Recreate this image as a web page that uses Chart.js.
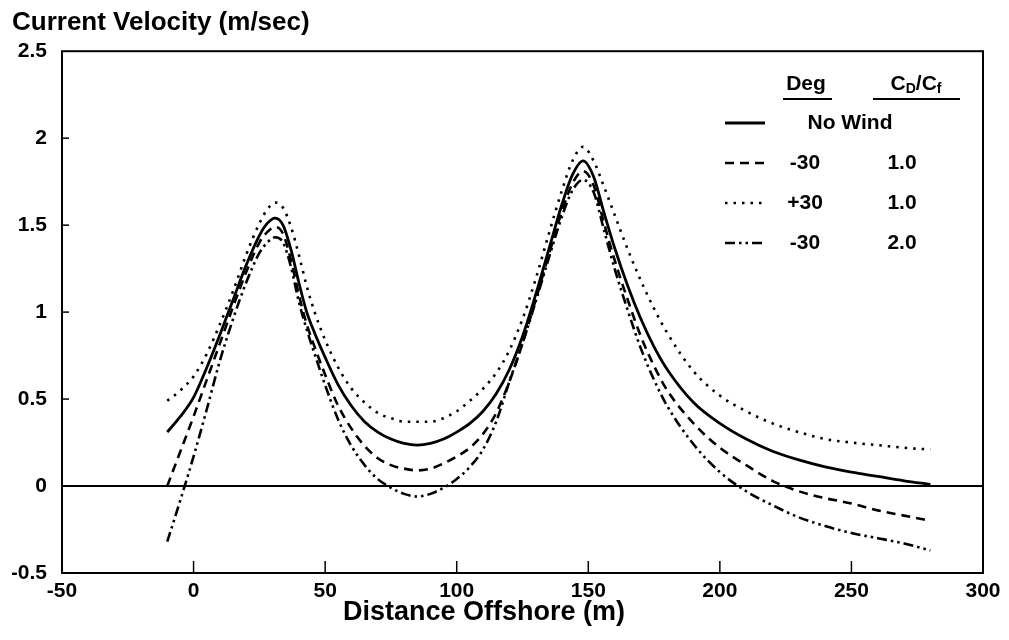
<!DOCTYPE html>
<html>
<head>
<meta charset="utf-8">
<script src="https://cdn.jsdelivr.net/npm/chart.js@4.4.1/dist/chart.umd.min.js"></script>
<style>
    html, body { margin: 0; padding: 0; background: #fff; }
    #wrap { width: 1009px; height: 640px; }
</style>
</head>
<body>
<div id="wrap"><canvas id="velocityChart" width="1009" height="640"></canvas></div>
<script>
// Distance offshore (m) where the curves were read
const distance = [-10, -5, 0, 5, 10, 15, 20, 25, 28, 31, 34, 37, 40, 43, 46,
    50, 55, 60, 65, 70, 75, 80, 85, 90, 95, 100, 105, 110, 115, 120, 125, 130, 135, 140,
    144, 148, 152, 156, 160, 165, 170, 175, 180,
    190, 200, 210, 220, 230, 240, 250, 260, 270, 280];

// Current velocity (m/sec) for each case
const noWind = [0.31, 0.40, 0.51, 0.68, 0.87, 1.07, 1.27, 1.44, 1.51, 1.54, 1.50, 1.36, 1.17, 1.00, 0.88,
    0.74, 0.58, 0.46, 0.37, 0.31, 0.27, 0.245, 0.235, 0.245, 0.27, 0.31, 0.36, 0.43, 0.53, 0.67, 0.86, 1.10, 1.36, 1.62,
    1.79, 1.87, 1.78, 1.57, 1.37, 1.15, 0.96, 0.80, 0.67,
    0.48, 0.36, 0.27, 0.20, 0.15, 0.11, 0.08, 0.055, 0.03, 0.01];
const minus30Cd1 = [0.00, 0.20, 0.40, 0.61, 0.82, 1.03, 1.23, 1.40, 1.46, 1.49, 1.45, 1.30, 1.10, 0.93, 0.80,
    0.64, 0.46, 0.33, 0.23, 0.16, 0.12, 0.10, 0.09, 0.10, 0.13, 0.17, 0.22, 0.30, 0.42, 0.60, 0.82, 1.07, 1.33, 1.58,
    1.74, 1.81, 1.73, 1.51, 1.30, 1.07, 0.86, 0.69, 0.55,
    0.36, 0.22, 0.12, 0.03, -0.03, -0.07, -0.10, -0.14, -0.17, -0.20];
const plus30Cd1 = [0.49, 0.55, 0.63, 0.76, 0.93, 1.12, 1.33, 1.51, 1.59, 1.63, 1.60, 1.49, 1.33, 1.15, 1.00,
    0.84, 0.68, 0.56, 0.48, 0.42, 0.39, 0.37, 0.37, 0.37, 0.39, 0.43, 0.49, 0.56, 0.65, 0.78, 0.96, 1.19, 1.45, 1.70,
    1.87, 1.95, 1.87, 1.72, 1.56, 1.36, 1.18, 1.02, 0.88,
    0.66, 0.52, 0.43, 0.36, 0.31, 0.27, 0.25, 0.235, 0.22, 0.21];
const minus30Cd2 = [-0.32, -0.08, 0.17, 0.44, 0.72, 0.96, 1.17, 1.34, 1.40, 1.43, 1.40, 1.26, 1.06, 0.90, 0.76,
    0.58, 0.38, 0.23, 0.12, 0.04, -0.01, -0.045, -0.06, -0.045, -0.01, 0.04, 0.11, 0.21, 0.37, 0.60, 0.82, 1.06, 1.31, 1.55,
    1.70, 1.76, 1.69, 1.47, 1.25, 1.01, 0.79, 0.61, 0.46,
    0.24, 0.08, -0.03, -0.11, -0.18, -0.23, -0.27, -0.30, -0.33, -0.37];

// Legend table text
const legendDeg = ["No Wind", "-30", "+30", "-30"];
const legendRatio = ["", "1.0", "1.0", "2.0"];

const FONT = "'Liberation Sans', Arial, Helvetica, sans-serif";
const dashes = [[], [9, 6], [2.5, 6], [10, 4, 2.5, 4, 2.5, 4]];

const toPoints = (ys) => ys.map((y, i) => ({ x: distance[i], y }));

const series = [noWind, minus30Cd1, plus30Cd1, minus30Cd2];
const datasets = series.map((ys, i) => ({
    label: legendDeg[i] + " " + legendRatio[i],
    data: toPoints(ys),
    borderColor: "#000",
    borderWidth: i === 0 ? 2.8 : 2.6,
    borderDash: dashes[i],
    pointRadius: 0,
    fill: false,
    cubicInterpolationMode: "monotone",
}));

// frame, zero line, inward ticks, x axis title
const framePlugin = {
    id: "frame",
    beforeDatasetsDraw(chart) {
        const { ctx, chartArea: a, scales } = chart;
        ctx.save();
        ctx.strokeStyle = "#000";
        ctx.lineWidth = 2;
        ctx.strokeRect(a.left, a.top, a.right - a.left, a.bottom - a.top);

        const y0 = scales.y.getPixelForValue(0);
        ctx.beginPath();
        ctx.moveTo(a.left, y0);
        ctx.lineTo(a.right, y0);
        ctx.stroke();

        ctx.lineWidth = 1.5;
        scales.x.ticks.forEach((t) => {
            if (t.value <= -50 || t.value >= 300) return;
            const px = scales.x.getPixelForValue(t.value);
            ctx.beginPath();
            ctx.moveTo(px, a.bottom);
            ctx.lineTo(px, a.bottom - 12);
            ctx.stroke();
        });
        scales.y.ticks.forEach((t) => {
            if (t.value <= -0.5 || t.value >= 2.5) return;
            const py = scales.y.getPixelForValue(t.value);
            ctx.beginPath();
            ctx.moveTo(a.left, py);
            ctx.lineTo(a.left + 7, py);
            ctx.stroke();
        });

        // axis title sits a bit left of the plot centre in the original
        ctx.fillStyle = "#000";
        ctx.font = "bold 27px " + FONT;
        ctx.textAlign = "center";
        ctx.textBaseline = "middle";
        ctx.fillText("Distance Offshore (m)", 484, 613);
        ctx.restore();
    },
};

// the Deg / CD/Cf table in the upper right
const tablePlugin = {
    id: "table",
    afterDraw(chart) {
        const ctx = chart.ctx;
        ctx.save();
        ctx.fillStyle = "#000";
        ctx.strokeStyle = "#000";
        ctx.textBaseline = "middle";
        const big = "bold 21px " + FONT;
        const small = "bold 14px " + FONT;

        // headers
        ctx.font = big;
        ctx.textAlign = "center";
        ctx.fillText("Deg", 806, 84);

        const parts = [["C", big, 0], ["D", small, 5], ["/C", big, 0], ["f", small, 5]];
        let total = 0;
        parts.forEach((p) => { ctx.font = p[1]; total += ctx.measureText(p[0]).width; });
        let x = 916 - total / 2;
        ctx.textAlign = "left";
        parts.forEach((p) => {
            ctx.font = p[1];
            ctx.fillText(p[0], x, 84 + p[2]);
            x += ctx.measureText(p[0]).width;
        });

        ctx.lineWidth = 2;
        ctx.beginPath();
        ctx.moveTo(783, 99); ctx.lineTo(832, 99);
        ctx.moveTo(873, 99); ctx.lineTo(960, 99);
        ctx.stroke();

        // rows
        const rowY = [123, 163, 203, 243];
        ctx.font = big;
        ctx.textAlign = "center";
        rowY.forEach((y, i) => {
            ctx.save();
            ctx.lineWidth = datasets[i].borderWidth;
            ctx.setLineDash(dashes[i]);
            ctx.beginPath();
            ctx.moveTo(725, y);
            ctx.lineTo(765, y);
            ctx.stroke();
            ctx.restore();
            if (legendRatio[i] === "") {
                ctx.fillText(legendDeg[i], 850, y);
            } else {
                ctx.fillText(legendDeg[i], 805, y);
                ctx.fillText(legendRatio[i], 902, y);
            }
        });
        ctx.restore();
    },
};

Chart.defaults.font.family = FONT;
Chart.defaults.color = "#000";

new Chart(document.getElementById("velocityChart"), {
    type: "line",
    data: { datasets },
    options: {
        responsive: false,
        animation: false,
        layout: { padding: { left: 12, right: 26, top: 0, bottom: 0 } },
        plugins: {
            legend: { display: false },
            tooltip: { enabled: false },
            title: {
                display: true,
                text: "Current Velocity (m/sec)",
                align: "start",
                color: "#000",
                font: { size: 26, weight: "bold", family: FONT },
                padding: { top: 7, bottom: 13 },
            },
        },
        scales: {
            x: {
                type: "linear",
                min: -50,
                max: 300,
                grid: { display: false, drawTicks: false },
                border: { display: false },
                ticks: {
                    stepSize: 50,
                    padding: 6,
                    color: "#000",
                    font: { size: 21, weight: "bold", family: FONT },
                    callback: (v) => String(v),
                },
                afterFit: (scale) => { scale.height = 67; },
            },
            y: {
                type: "linear",
                min: -0.5,
                max: 2.5,
                grid: { display: false, drawTicks: false },
                border: { display: false },
                ticks: {
                    stepSize: 0.5,
                    padding: 15,
                    color: "#000",
                    font: { size: 21, weight: "bold", family: FONT },
                    callback: (v) => String(v),
                },
                afterFit: (scale) => { scale.width = 50; },
            },
        },
    },
    plugins: [framePlugin, tablePlugin],
});
</script>
</body>
</html>
